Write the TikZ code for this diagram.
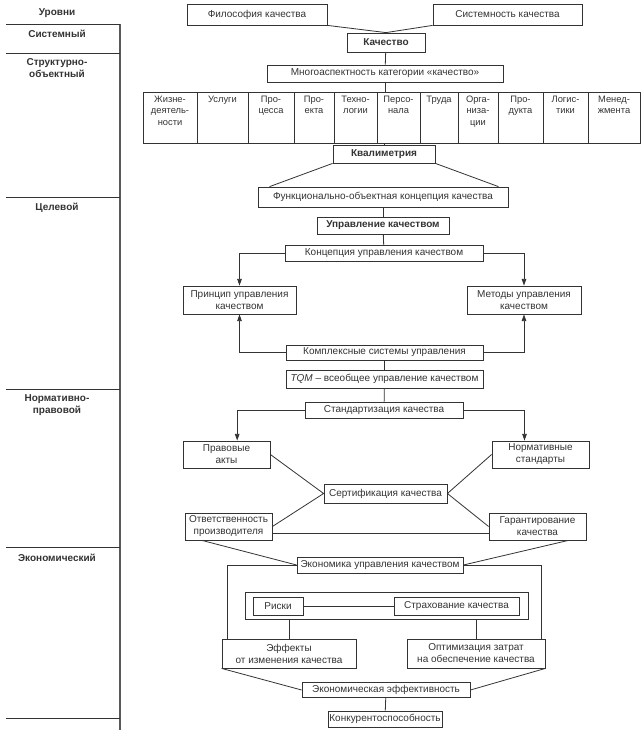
\documentclass[tikz,border=0pt]{standalone}
\usepackage{fontspec}
\setmainfont{Liberation Sans}
\usetikzlibrary{arrows.meta}

\begin{document}
\begin{tikzpicture}[x=0.75pt, y=-0.75pt, line width=0.6pt, color=black!80,
  font=\fontsize{7.5}{9}\selectfont,
  box/.style 2 args={draw, minimum width=#1*0.75pt, minimum height=#2*0.75pt, inner sep=1pt, align=center},
  cell/.style={font=\fontsize{7}{8.8}\selectfont, anchor=north, align=center, inner sep=1pt},
  level/.style={font=\fontsize{7.5}{9}\selectfont\bfseries, align=center},
  arr/.style={-{Triangle[length=5pt, width=3.4pt]}}]
\useasboundingbox (0,0) rectangle (643,735);

% Levels column
\draw[line width=2.2pt, black!65] (120,24) -- (120,730);
\foreach \y in {24,53,197,389,547,718} {
    \draw (6,\y) -- (120,\y);
}
\node[level] (lvl0) at (57,13) {Уровни};
\node[level] (lvl1) at (57,34) {Системный};
\node[level] (lvl2) at (57,68) {Структурно-\\объектный};
\node[level] (lvl3) at (57,208) {Целевой};
\node[level] (lvl4) at (57,405) {Нормативно-\\правовой};
\node[level] (lvl5) at (57,558) {Экономический};

% Quality
\node[box={140}{21}] (fil) at (257,14.5) {Философия качества};
\node[box={149}{21}] (sys) at (507.5,14.5) {Системность качества};
\node[box={78}{19}, font=\fontsize{7.5}{9}\selectfont\bfseries] (kach) at (386,42.5) {Качество};
\node[box={236}{17}] (mnogo) at (385,73.5) {Многоаспектность категории «качество»};
\draw (fil.south east) -- (kach.north);
\draw (sys.south west) -- (kach.north);
\draw (kach) -- (mnogo);

% Categories row
\node[box={497}{51}] (row) at (391.5,117.5) {};
\foreach \x in {197,248,294,334,377,420,458,498,543,588} {
    \draw (\x,92) -- (\x,143);
}
\foreach \l/\r/\t [count=\i] in {143/197/{Жизне-\\деятель-\\ности}, 197/248/Услуги,
    248/294/{Про-\\цесса}, 294/334/{Про-\\екта}, 334/377/{Техно-\\логии},
    377/420/{Персо-\\нала}, 420/458/Труда, 458/498/{Орга-\\низа-\\ции},
    498/543/{Про-\\дукта}, 543/588/{Логис-\\тики}, 588/640/{Менед-\\жмента}} {
    \node[cell] (cell\i) at ({(\l+\r)/2},94) {\t};
}
\draw (mnogo.south) -- (mnogo.south |- row.north);

% Qualimetry and management
\node[box={102}{18}, font=\fontsize{7.5}{9}\selectfont\bfseries] (kval) at (384,154) {Квалиметрия};
\node[box={250}{20}] (func) at (383,197) {Функционально-объектная концепция качества};
\node[box={132}{17}, font=\fontsize{7.5}{9}\selectfont\bfseries] (upr) at (383,225.5) {Управление качеством};
\node[box={198}{16}] (konc) at (384,253.5) {Концепция управления качеством};
\node[box={113}{28}] (princ) at (239.5,300) {Принцип управления\\качеством};
\node[box={114}{28}] (metod) at (524,300) {Методы управления\\качеством};
\node[box={197}{15}] (kompl) at (384.5,352.5) {Комплексные системы управления};
\node[box={197}{18}] (tqm) at (384.5,379) {\textit{TQM} – всеобщее управление качеством};
\draw (kval.north |- row.south) -- (kval.north);
\draw (kval.south west) -- ([xshift=9pt]func.north west);
\draw (kval.south east) -- ([xshift=-7.5pt]func.north east);
\draw (func) -- (upr);
\draw (upr) -- (konc);
\draw[arr] (konc.west) -| (princ.north);
\draw[arr] (konc.east) -| (metod.north);
\draw[arr] (kompl.west) -| (princ.south);
\draw[arr] (kompl.east) -| (metod.south);
\draw (kompl) -- (tqm);

% Standards
\node[box={158}{16}] (stand) at (384,410) {Стандартизация качества};
\node[box={87}{27}] (prav) at (226.5,454.5) {Правовые\\акты};
\node[box={97}{27}] (norm) at (540.5,454.5) {Нормативные\\стандарты};
\node[box={123}{19}] (sert) at (385.5,493.5) {Сертификация качества};
\node[box={87}{27}] (otv) at (228.5,526.5) {Ответственность\\производителя};
\node[box={97}{27}] (gar) at (537.5,526.5) {Гарантирование\\качества};
\draw (tqm) -- (stand);
\draw[arr] (stand.west) -| ([xshift=8pt]prav.north);
\draw[arr] (stand.east) -| ([xshift=-12pt]norm.north);
\draw (prav.east) -- (sert.west) -- (otv.east);
\draw (norm.west) -- (sert.east) -- (gar.west);
\draw ([yshift=-5.5pt]otv.east) -- ([yshift=-5.5pt]gar.west);

% Economics
\node[box={166}{16}] (econ) at (380,565) {Экономика управления качеством};
\node[box={283}{27}] (grp) at (386.5,605.5) {};
\node[box={50}{18}] (riski) at (278,606) {Риски};
\node[box={125}{18}] (strah) at (456.5,606) {Страхование качества};
\node[box={134}{29}] (eff) at (289,653.5) {Эффекты\\от изменения качества};
\node[box={138}{29}] (opt) at (476,653.5) {Оптимизация затрат\\на обеспечение качества};
\node[box={168}{15}] (ekef) at (386,690) {Экономическая эффективность};
\node[box={114}{16}] (konk) at (385,719) {Конкурентоспособность};
\draw ([xshift=13pt]otv.south west) -- (econ.west);
\draw ([xshift=-13.5pt]gar.south east) -- (econ.east);
\draw (econ.west) -| ([xshift=4.5pt]eff.north west);
\draw (econ.east) -| ([xshift=-3pt]opt.north east);
\draw (riski) -- (strah);
\draw (eff.north |- grp.south) -- (eff.north);
\draw (opt.north |- grp.south) -- (opt.north);
\draw (eff.south west) -- (ekef.west);
\draw (opt.south east) -- (ekef.east);
\draw (ekef) -- (konk);
\end{tikzpicture}
\end{document}
